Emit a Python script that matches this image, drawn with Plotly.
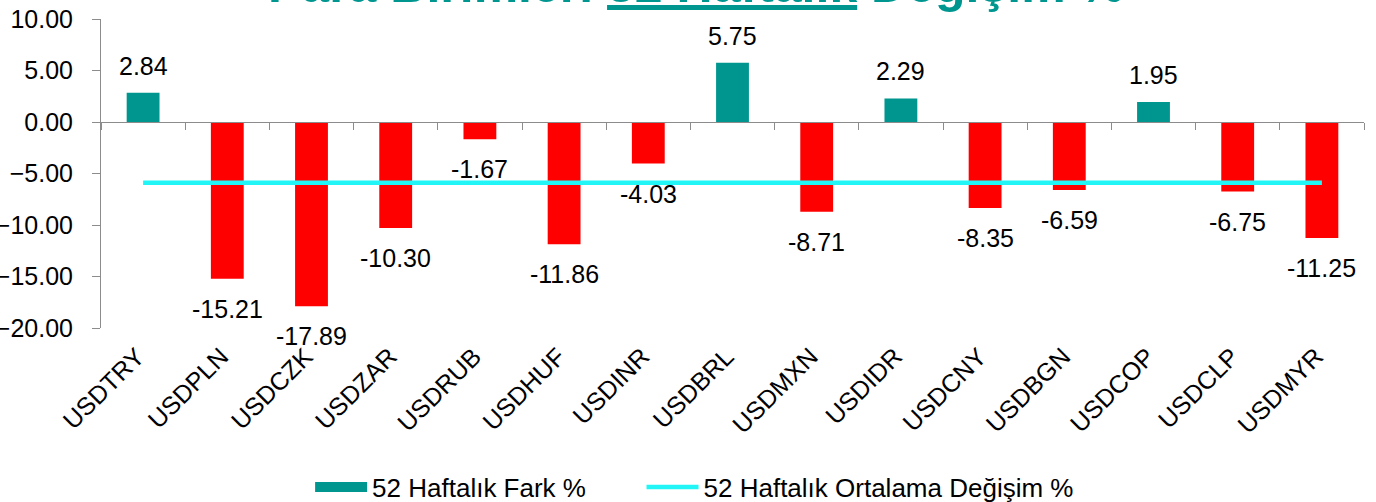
import plotly.graph_objects as go

categories = ["USDTRY", "USDPLN", "USDCZK", "USDZAR", "USDRUB", "USDHUF", "USDINR", "USDBRL",
              "USDMXN", "USDIDR", "USDCNY", "USDBGN", "USDCOP", "USDCLP", "USDMYR"]
change_52w = [2.84, -15.21, -17.89, -10.30, -1.67, -11.86, -4.03, 5.75,
              -8.71, 2.29, -8.35, -6.59, 1.95, -6.75, -11.25]
average_52w = [-5.9] * 15
y_ticks = [10, 5, 0, -5, -10, -15, -20]
title_text = "<b>Para Birimleri <u>52 Haftalık</u> Değişim %</b>"
bar_legend = "52 Haftalık Fark %"
line_legend = "52 Haftalık Ortalama Değişim %"

TEAL = "#009690"
RED = "#FF0000"
CYAN = "#22F5F5"
AXIS = "#8c8c8c"
FONT = "Liberation Sans, Arial, sans-serif"

bar_colors = [TEAL if v >= 0 else RED for v in change_52w]

fig = go.Figure()
fig.add_trace(go.Bar(
    x=categories, y=change_52w, name=bar_legend,
    marker=dict(color=bar_colors, line=dict(width=0)),
    showlegend=False,
))
# legend proxy for the bars (wide teal swatch)
fig.add_trace(go.Scatter(
    x=categories, y=[None] * len(categories), name=bar_legend + "&nbsp;" * 7,
    mode="lines", line=dict(color=TEAL, width=14), hoverinfo="skip",
))
fig.add_trace(go.Scatter(
    x=categories, y=average_52w, name=line_legend,
    mode="lines", line=dict(color=CYAN, width=4.5),
))
# zero-crossing category axis (line + boundary ticks, no labels)
fig.add_trace(go.Scatter(x=categories, y=[None] * len(categories), xaxis="x2",
                         showlegend=False, hoverinfo="skip"))

# data labels
for c, v in zip(categories, change_52w):
    fig.add_annotation(
        x=c, y=v, xref="x", yref="y", text=f"{v:.2f}", showarrow=False,
        yanchor="bottom" if v >= 0 else "top",
        yshift=11 if v >= 0 else -14,
        font=dict(size=25, color="black", family=FONT),
    )

# title (top part runs off the page like the reference)
fig.add_annotation(
    x=0.5, xref="paper", y=1, yref="paper", xanchor="center", yanchor="bottom",
    xshift=-37, yshift=4, text=title_text, showarrow=False,
    font=dict(size=50, color=TEAL, family=FONT),
)

fig.update_layout(
    width=1376, height=502,
    paper_bgcolor="white", plot_bgcolor="white",
    margin=dict(l=101, r=12, t=19, b=174, autoexpand=False),
    bargap=0.61,
    font=dict(family=FONT, color="black"),
    xaxis=dict(
        type="category", categoryorder="array", categoryarray=categories,
        range=[-0.5, len(categories) - 0.5],
        showline=False, ticks="", tickangle=-45, ticklabelstandoff=8, ticklabelshift=-6,
        tickfont=dict(size=25, family=FONT, color="black"),
        showgrid=False, zeroline=False, automargin=False,
    ),
    xaxis2=dict(
        matches="x", overlaying="x", anchor="free", position=20 / 30,
        showline=True, linecolor=AXIS, linewidth=1,
        ticks="outside", tickson="boundaries", ticklen=7, tickcolor=AXIS,
        showticklabels=False, showgrid=False, zeroline=False, automargin=False,
    ),
    yaxis=dict(
        range=[-20, 10], tickvals=y_ticks, tickformat=".2f",
        showline=True, linecolor=AXIS, linewidth=1,
        ticks="outside", ticklen=8, tickcolor=AXIS, ticklabelstandoff=14,
        tickfont=dict(size=25, family=FONT, color="black"),
        showgrid=False, zeroline=False, automargin=False,
    ),
    legend=dict(
        orientation="h", x=0.470, xanchor="center", y=-0.515, yanchor="middle",
        font=dict(size=26, family=FONT, color="black"),
        itemwidth=52, traceorder="normal",
    ),
    showlegend=True,
)

fig.write_html("out.html", config={"displayModeBar": False},
               post_script="document.body.style.margin='0';")
